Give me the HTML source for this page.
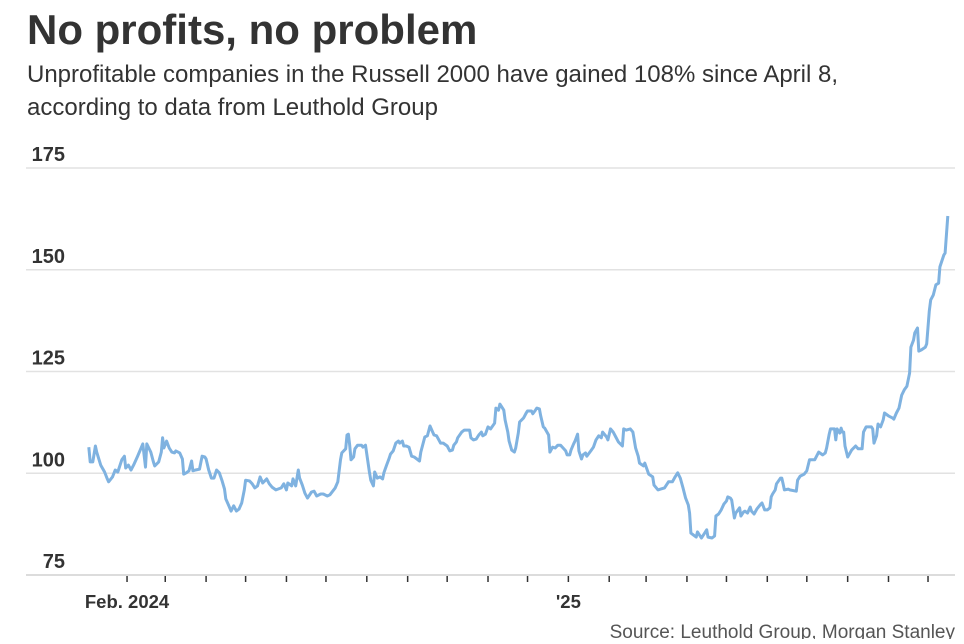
<!DOCTYPE html>
<html><head><meta charset="utf-8"><style>
body{margin:0;background:#fff;width:964px;height:639px;overflow:hidden;font-family:"Liberation Sans",sans-serif;}
svg text{font-family:"Liberation Sans",sans-serif;}
</style></head><body>
<svg id="chart" width="964" height="639" viewBox="0 0 964 639" xmlns="http://www.w3.org/2000/svg">
<text x="27" y="44" font-size="42" font-weight="bold" fill="#333">No profits, no problem</text>
<text x="27" y="82" font-size="24" fill="#333" textLength="811" lengthAdjust="spacingAndGlyphs">Unprofitable companies in the Russell 2000 have gained 108% since April 8,</text>
<text x="27" y="115" font-size="24" fill="#333">according to data from Leuthold Group</text>
<g id="grid"></g>
<g id="yaxis"></g>
<g id="xaxis"></g>
<path id="line" fill="none" stroke="#7fb2e0" stroke-width="3" stroke-linejoin="round"/>
<text x="955" y="638" text-anchor="end" font-size="19" fill="#555">Source: Leuthold Group, Morgan Stanley</text>
</svg>
<script>
const dayIndex=[2,3,5,7,8,11,14,16,17,20,22,24,25,27,29,30,32,34,36,39,41,43,45,46,49,51,52,55,57,58,59,61,63,65,67,68,71,73,74,76,78,80,81,83,86,88,90,91,93,95,97,99,101,103,105,106,108,110,112,114,116,118,120,121,124,126,128,130,132,134,137,139,141,144,148,150,152,153,156,157,159,161,162,164,166,168,171,173,175,178,180,183,185,189,191,193,194,197,198,199,200,201,203,204,206,209,210,212,213,215,216,218,219,221,223,225,226,228,230,231,233,235,237,238,240,241,243,245,247,249,251,253,254,257,259,260,261,263,264,266,269,271,274,276,278,279,281,282,285,287,289,291,292,294,296,298,300,301,303,305,307,310,311,313,314,316,317,318,320,321,323,325,326,328,329,332,334,335,338,339,341,342,344,345,347,348,351,352,354,356,358,360,362,364,365,367,368,370,371,373,374,376,377,379,380,383,385,387,389,391,392,395,396,398,400,402,404,407,408,410,413,415,417,419,420,423,424,427,430,431,434,436,439,441,442,445,447,449,451,453,455,457,458,459,461,463,464,467,469,471,472,475,477,478,480,482,484,486,487,489,490,492,493,496,497,499,500,502,504,505,507,509,512,513,515,517,519,520,521,523,524,527,528,529,530,533,534,539,540,542,545,547,549,550,553,556,559,561,562,564,565,568,569,570,572,573,574,575,576,578,581,584,586,589,590,592,596,597,598,600,601,603,605,606,609,612,613,615,617,619,621,623,625,626,628,629,631,632,634,637,638,640,641,643,645,647,648,651,652,654];
const values=[106.4,102.8,102.8,106.7,105.2,102.0,100.3,98.6,97.9,99.1,100.8,100.3,101.3,103.3,104.2,101.3,102.0,100.8,102.0,104.2,105.7,107.2,101.5,107.2,105.2,102.8,101.8,102.8,105.2,108.7,106.2,107.9,106.2,105.2,105.0,105.5,105.0,103.5,99.8,100.1,100.6,103.0,100.6,100.8,101.0,104.2,104.0,103.5,100.8,98.8,98.8,100.8,100.1,98.3,96.1,93.7,92.2,90.7,92.0,90.7,91.2,92.7,95.9,98.3,98.1,97.4,96.4,96.9,99.1,97.6,98.6,97.4,96.6,95.9,96.4,97.4,95.9,97.6,96.9,98.6,96.9,100.8,98.8,97.1,95.1,93.9,95.4,95.6,94.4,94.9,94.9,94.4,94.7,96.4,97.9,103.3,105.0,106.0,109.4,109.6,106.9,103.3,104.0,106.0,106.9,106.9,106.4,106.9,104.7,100.3,98.3,96.9,100.3,98.8,99.1,98.6,100.1,102.0,103.7,104.7,105.5,107.4,107.9,107.4,107.9,106.7,106.7,106.4,104.2,104.0,103.5,103.0,105.2,108.9,109.2,110.4,111.6,110.1,109.4,109.2,107.4,107.4,106.7,105.5,105.7,106.9,107.7,108.7,110.1,110.6,110.6,110.6,108.7,108.2,108.4,109.4,110.1,109.2,109.6,111.4,110.9,112.3,116.0,115.5,117.0,116.0,115.5,113.1,110.1,107.9,105.7,105.2,106.2,109.9,112.6,113.6,114.8,115.3,115.3,114.6,115.5,116.0,115.8,114.1,111.4,111.1,109.4,105.2,106.4,106.2,106.9,106.9,106.2,105.5,104.5,104.5,105.7,107.2,107.9,109.6,105.5,103.5,104.5,105.0,104.2,105.5,106.4,108.2,109.2,108.7,110.1,108.9,108.2,110.9,110.1,108.9,107.7,106.7,110.9,110.6,110.9,110.1,106.2,104.2,102.5,101.8,102.5,99.8,99.1,97.1,95.9,96.1,96.4,97.4,97.9,97.9,99.1,100.1,98.8,96.4,93.9,92.2,90.2,85.3,84.8,84.3,85.6,84.1,85.1,86.1,84.3,84.1,84.6,89.5,90.0,91.0,92.4,93.2,94.2,93.9,93.4,89.0,90.2,91.5,89.5,90.5,90.7,90.2,91.7,90.7,90.0,91.2,92.4,92.7,91.0,91.0,91.5,94.2,94.9,95.9,97.4,98.8,98.8,97.4,95.9,96.1,95.9,95.6,98.3,99.3,99.8,100.6,103.3,103.3,103.3,105.2,104.5,105.0,106.2,109.6,110.9,110.9,108.2,110.9,109.9,111.1,110.1,110.1,106.7,104.0,105.7,106.7,106.0,106.0,110.1,111.4,111.4,110.9,107.4,109.2,112.1,111.4,113.1,114.8,114.1,113.6,113.3,114.8,116.0,119.2,120.5,121.4,124.6,131.0,132.7,134.5,135.7,130.0,130.3,131.0,131.8,139.9,142.6,143.8,146.3,146.7,150.7,153.6,154.1,163.2];
const yTicks=[75,100,125,150,175];
const xLabels=[{date:"2024-02-01",text:"Feb. 2024"},{date:"2025-01-01",text:"'25"}];
const tickCount=21;

const NS="http://www.w3.org/2000/svg";
const base=Date.UTC(2024,0,1);
function dayOf(s){const p=s.split('-');return (Date.UTC(+p[0],+p[1]-1,+p[2])-base)/86400000;}
function xs(d){return 86.2+d*1.3174;}
function ys(v){return 575-(v-75)*4.07;}
function mk(tag,attrs,parent){const e=document.createElementNS(NS,tag);for(const k in attrs)e.setAttribute(k,attrs[k]);parent.appendChild(e);return e;}
const grid=document.getElementById('grid'),ya=document.getElementById('yaxis'),xa=document.getElementById('xaxis');
yTicks.forEach(v=>{
  const l=mk('line',{x1:26,x2:955,y1:ys(v),y2:ys(v),stroke:v===75?'#d0d0d0':'#e2e2e2','stroke-width':1.5},grid);
  
  
  const t=mk('text',{x:65,y:ys(v)-7,'text-anchor':'end','font-size':20,'font-weight':'bold',fill:'#333'},ya);
  t.textContent=v;
  
  
});
for(let i=0;i<tickCount;i++){
  const dt=new Date(Date.UTC(2024,1+i,1));
  const d=(dt-base)/86400000;
  const l=mk('line',{x1:xs(d),x2:xs(d),y1:576,y2:582,stroke:'#333','stroke-width':1.5},xa);
  
  
}
xLabels.forEach(o=>{
  const t=mk('text',{x:xs(dayOf(o.date)),y:608,'text-anchor':'middle','font-size':18.5,'font-weight':'bold',fill:'#333'},xa);
  t.textContent=o.text;
  
  
});
let dstr='';
for(let i=0;i<values.length;i++){dstr+=(i?'L':'M')+xs(dayIndex[i]).toFixed(1)+','+ys(values[i]).toFixed(1);}
document.getElementById('line').setAttribute('d',dstr);
</script>
</body></html>
